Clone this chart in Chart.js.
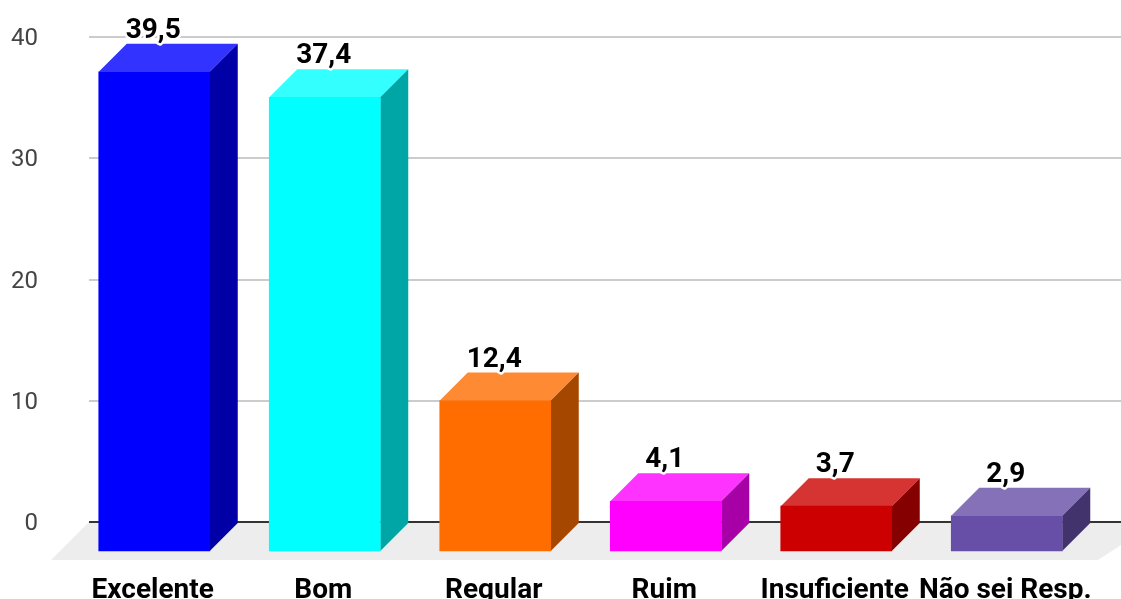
<!DOCTYPE html>
<html>
<head>
<meta charset="utf-8">
<style>
  html, body { margin: 0; padding: 0; background: #fff; overflow: hidden; }
  canvas { display: block; }
</style>
<script src="https://cdn.jsdelivr.net/npm/chart.js@4"></script>
</head>
<body>
<canvas id="barChart" width="1121" height="599"></canvas>
<script>
// Data
const categories = ['Excelente', 'Bom', 'Regular', 'Ruim', 'Insuficiente', 'Não sei Resp.'];
const values = [39.5, 37.4, 12.4, 4.1, 3.7, 2.9];
const tickValues = [0, 10, 20, 30, 40];

// Colours of the three visible faces of each bar
const frontColors = ['#0000ff', '#00ffff', '#ff6d01', '#ff00ff', '#cc0000', '#674ea7'];
const topColors = ['#3333ff', '#33ffff', '#ff8a34', '#ff33ff', '#d63333', '#8571b8'];
const sideColors = ['#0000a6', '#00a6a6', '#a64700', '#a600a6', '#850000', '#43336c'];

const depth = 28;      // how far the back of a bar sits from its front, px
const floorDepth = 38; // same for the floor

// Grid, floor and the top and side faces, all placed from the scales
const box3d = {
    id: 'box3d',
    beforeDatasetsDraw(chart) {
        const ctx = chart.ctx;
        const wall = chart.scales.y;
        const zero = wall.getPixelForValue(0);
        const left = 89, right = chart.width;

        // floor
        ctx.fillStyle = '#ededed';
        ctx.beginPath();
        ctx.moveTo(left, zero);
        ctx.lineTo(right, zero);
        ctx.lineTo(right, zero + right - 1098);
        ctx.lineTo(1098, zero + floorDepth);
        ctx.lineTo(left - floorDepth, zero + floorDepth);
        ctx.closePath();
        ctx.fill();

        // grid lines on the back wall
        tickValues.forEach(v => {
            const y = Math.round(wall.getPixelForValue(v));
            ctx.strokeStyle = v === 0 ? '#333333' : '#cccccc';
            ctx.lineWidth = 2;
            ctx.beginPath();
            ctx.moveTo(left, y);
            ctx.lineTo(right, y);
            ctx.stroke();
        });

        chart.getDatasetMeta(0).data.forEach((bar, i) => {
            const { x, y, base, width } = bar.getProps(['x', 'y', 'base', 'width']);
            const l = x - width / 2, r = x + width / 2;

            ctx.fillStyle = topColors[i];
            ctx.beginPath();
            ctx.moveTo(l, y);
            ctx.lineTo(l + depth, y - depth);
            ctx.lineTo(r + depth, y - depth);
            ctx.lineTo(r, y);
            ctx.closePath();
            ctx.fill();

            ctx.fillStyle = sideColors[i];
            ctx.beginPath();
            ctx.moveTo(r, y);
            ctx.lineTo(r + depth, y - depth);
            ctx.lineTo(r + depth, base - depth);
            ctx.lineTo(r, base);
            ctx.closePath();
            ctx.fill();
        });
    },
    afterDatasetsDraw(chart) {
        const ctx = chart.ctx;
        ctx.save();
        ctx.font = 'bold 28px Roboto';
        ctx.textAlign = 'center';
        ctx.textBaseline = 'alphabetic';
        ctx.lineJoin = 'round';
        chart.getDatasetMeta(0).data.forEach((bar, i) => {
            const label = values[i].toFixed(1).replace('.', ',');
            const px = bar.x - 1, py = bar.y - depth - 6;
            ctx.strokeStyle = '#ffffff';
            ctx.lineWidth = 5;
            ctx.strokeText(label, px, py);
            ctx.fillStyle = '#000000';
            ctx.fillText(label, px, py);
        });
        ctx.restore();
    }
};

const barChart = new Chart(document.getElementById('barChart').getContext('2d'), {
    type: 'bar',
    data: {
        labels: categories,
        datasets: [{
            data: values,
            yAxisID: 'yFront',
            backgroundColor: frontColors,
            borderWidth: 0,
            barThickness: 111
        }]
    },
    plugins: [box3d],
    options: {
        responsive: false,
        animation: false,
        layout: { padding: { top: 37, right: 29, left: 0, bottom: 0 } },
        plugins: { legend: { display: false }, tooltip: { enabled: false } },
        scales: {
            x: {
                grid: { display: false },
                border: { display: false },
                afterFit(axis) {
                    // no overhang margins, the plot area stays where it is set
                    axis.height = 39;
                    axis.paddingLeft = 0;
                    axis.paddingRight = 0;
                },
                ticks: {
                    autoSkip: false,
                    maxRotation: 0,
                    padding: 6,
                    labelOffset: -1.5,
                    color: '#000000',
                    font: { family: 'Roboto', size: 28, weight: 'bold' }
                }
            },
            // the back wall: carries the ticks, 0 is 38px above the floor edge
            y: {
                min: -3.13,
                max: 40,
                grid: { display: false },
                border: { display: false },
                afterFit(axis) {
                    axis.width = 69;
                    axis.paddingTop = 0;
                    axis.paddingBottom = 0;
                },
                afterBuildTicks(axis) { axis.ticks = tickValues.map(v => ({ value: v })); },
                ticks: {
                    padding: 23,
                    labelOffset: 2,
                    color: '#444444',
                    font: { family: 'Roboto', size: 24 }
                }
            },
            // the front plane the bars stand on, same px per unit as the wall
            yFront: {
                display: false,
                min: -0.74,
                max: 42.37
            }
        }
    }
});
</script>
</body>
</html>
